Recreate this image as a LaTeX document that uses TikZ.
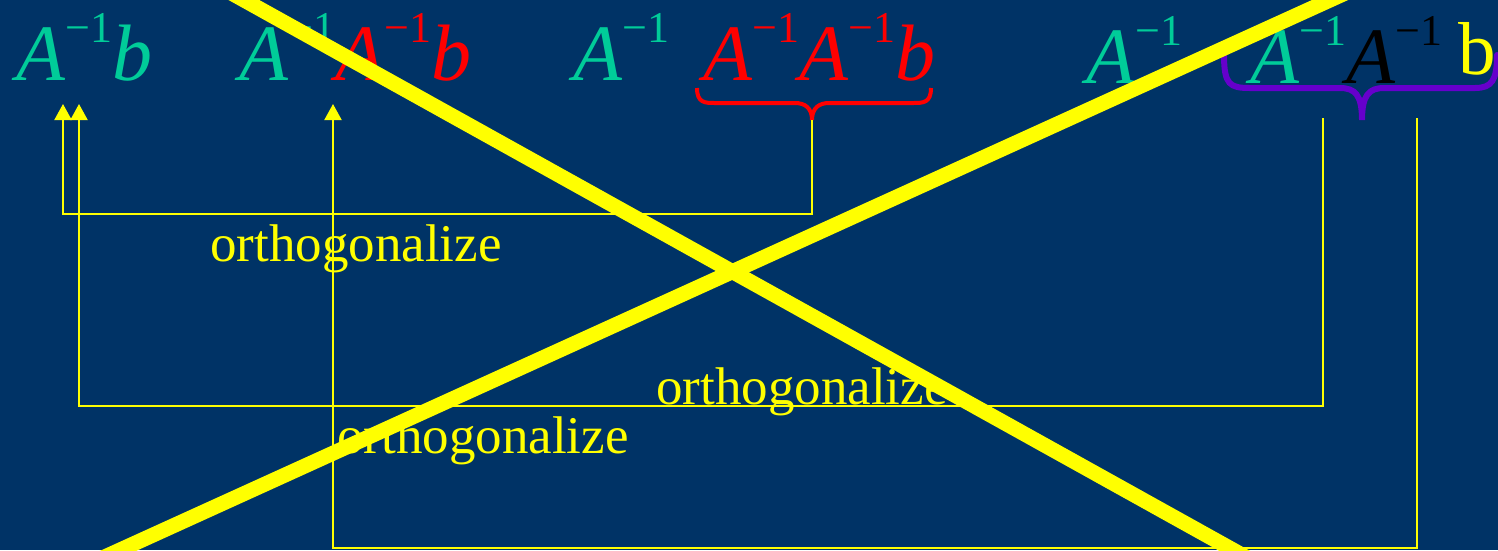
\documentclass[tikz,border=0pt]{standalone}
\usepackage{fontspec}
\setmainfont{Liberation Serif}
\usetikzlibrary{arrows.meta}
\definecolor{bg}{RGB}{0,51,102}
\definecolor{grn}{RGB}{0,204,153}
\definecolor{ylw}{RGB}{255,255,0}
\definecolor{rd}{RGB}{255,0,0}
\definecolor{prp}{RGB}{102,0,204}
\newcommand{\Ainv}{\textit{A}\raisebox{38pt}{\fontsize{44pt}{44pt}\selectfont −1}}
\tikzset{
  expr/.style={anchor=base west, inner sep=0pt, font=\fontsize{80pt}{80pt}\selectfont},
  lab/.style={anchor=base west, inner sep=0pt, text=ylw, font=\fontsize{53pt}{53pt}\selectfont},
  conn/.style={draw=ylw, line width=2pt},
  tip/.style={-{Triangle[width=17pt,length=16pt]}},
  cross/.style={draw=ylw, line width=15pt}
}
\begin{document}
\begin{tikzpicture}[x=1pt,y=-1pt]
\useasboundingbox (0,0) rectangle (1498,550);
\clip (0,0) rectangle (1498,550);
\fill[bg] (0,0) rectangle (1498,550);
% expressions
\node[expr, text=grn] (e1) at (16,80) {\Ainv\textit{b}};
\node[expr] (e2) at (239,80) {\color{grn}\Ainv\color{rd}\Ainv\textit{b}};
\node[expr, text=grn] (e3a) at (573,80) {\Ainv};
\node[expr, text=rd] (e3b) at (703,80) {\Ainv\Ainv\textit{b}};
\node[expr, text=grn] (e4a) at (1086,83) {\Ainv};
\node[expr] (e4b) at (1250,83) {\color{grn}\Ainv\color{black}\Ainv};
\node[expr, text=ylw, font=\fontsize{75pt}{75pt}\selectfont] (e4c) at (1458,74) {b};
% braces
\coordinate (b1tip) at (812,120);
\draw[rd, line width=4pt] (697,88) .. controls (697,103) and (705,103) .. (715,103)
  -- (795,103) .. controls (805,103) and (812,108) .. (b1tip)
  .. controls (812,108) and (819,103) .. (829,103) -- (913,103)
  .. controls (923,103) and (931,103) .. (931,88);
\coordinate (b2tip) at (1362,120);
\draw[prp, line width=6pt, line cap=round] (1224,55) .. controls (1224,85) and (1230,88) .. (1250,88)
  -- (1340,88) .. controls (1355,88) and (1362,95) .. (b2tip)
  .. controls (1362,95) and (1369,88) .. (1384,88) -- (1475,88)
  .. controls (1492,88) and (1497,80) .. (1497,55);
% connectors
\coordinate (s2) at (1323,118);
\coordinate (s3) at (1417,118);
\coordinate (t1) at (63,104);
\coordinate (t2) at (79,104);
\coordinate (t3) at (333,104);
\draw[conn, tip] (b1tip) -- ++(0,94) -| (t1);
\draw[conn, tip] (s2) -- ++(0,288) -| (t2);
\draw[conn, tip] (s3) -- ++(0,430) -| (t3);
% labels
\node[lab] (l1) at (210,261) {orthogonalize};
\node[lab] (l2) at (656,404) {orthogonalize};
\node[lab] (l3) at (337,453) {orthogonalize};
% cross
\draw[cross] (145,-55) -- (1332,605);
\draw[cross] (-1,605) -- (1451,-55);
\end{tikzpicture}
\end{document}
